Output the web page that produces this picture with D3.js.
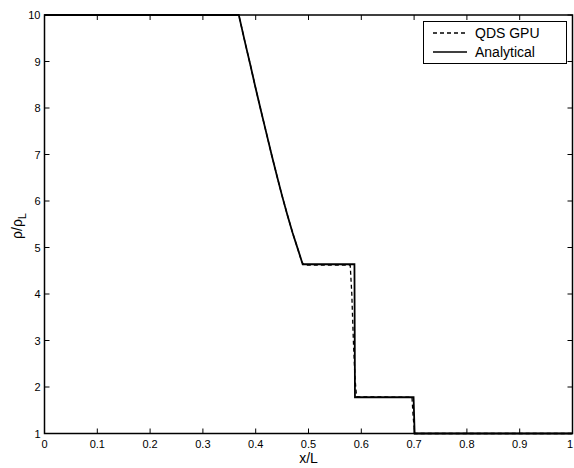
<!DOCTYPE html>
<html><head><meta charset="utf-8">
<script src="https://cdn.jsdelivr.net/npm/d3@7"></script>
<style>body{margin:0;background:#fff}svg{display:block}text{font-family:"Liberation Sans",Arial,sans-serif}</style>
</head><body>
<script>
// Analytical solution (x/L, rho/rho_L)
const analyticalX = [0, 0.368, 0.37, 0.38, 0.39, 0.40, 0.41, 0.42, 0.43, 0.44, 0.45, 0.46, 0.47, 0.48, 0.489, 0.587, 0.588, 0.591, 0.699, 0.701, 1.0];
const analyticalY = [10, 10, 9.90, 9.40, 8.92, 8.42, 7.94, 7.47, 7.00, 6.55, 6.11, 5.70, 5.31, 4.96, 4.64, 4.64, 1.78, 1.78, 1.78, 1.0, 1.0];
// QDS GPU numerical result
const qdsX = [0, 0.365, 0.369, 0.372, 0.38, 0.39, 0.40, 0.41, 0.42, 0.43, 0.44, 0.45, 0.46, 0.47, 0.48, 0.487, 0.492, 0.579, 0.582, 0.585, 0.588, 0.591, 0.696, 0.698, 0.701, 1.0];
const qdsY = [10, 10, 9.95, 9.80, 9.40, 8.92, 8.42, 7.94, 7.47, 7.00, 6.55, 6.11, 5.70, 5.31, 4.96, 4.70, 4.62, 4.62, 4.0, 3.0, 2.2, 1.79, 1.78, 1.4, 1.0, 1.0];
const xTicks = [0, 0.1, 0.2, 0.3, 0.4, 0.5, 0.6, 0.7, 0.8, 0.9, 1];
const yTicks = [1, 2, 3, 4, 5, 6, 7, 8, 9, 10];
const legendLabels = ["QDS GPU", "Analytical"];

const W = 574, H = 468;
const m = {left: 44.5, right: 1.5, top: 15, bottom: 34.5};
const svg = d3.select("body").append("svg").attr("width", W).attr("height", H);
const x = d3.scaleLinear().domain([0, 1]).range([m.left, W - m.right]);
const y = d3.scaleLinear().domain([1, 10]).range([H - m.bottom, m.top]);

const g = svg.append("g");
// ticks inward
const tl = 5;
xTicks.forEach(t => {
  g.append("line").attr("x1", x(t)).attr("x2", x(t)).attr("y1", y(1)).attr("y2", y(1) - tl).attr("stroke", "#000");
  g.append("line").attr("x1", x(t)).attr("x2", x(t)).attr("y1", y(10)).attr("y2", y(10) + tl).attr("stroke", "#000");
  g.append("text").attr("x", Math.min(x(t), W - 4)).attr("y", y(1) + 14).attr("text-anchor", "middle").attr("font-size", 11).text(t);
});
yTicks.forEach(t => {
  g.append("line").attr("x1", x(0)).attr("x2", x(0) + tl).attr("y1", y(t)).attr("y2", y(t)).attr("stroke", "#000");
  g.append("line").attr("x1", x(1)).attr("x2", x(1) - tl).attr("y1", y(t)).attr("y2", y(t)).attr("stroke", "#000");
  g.append("text").attr("x", x(0) - 4).attr("y", y(t) + 4).attr("text-anchor", "end").attr("font-size", 11).text(t);
});

const line = d3.line().x(d => x(d[0])).y(d => y(d[1]));
const an = analyticalX.map((v, i) => [v, analyticalY[i]]);
const qd = qdsX.map((v, i) => [v, qdsY[i]]);
svg.append("path").attr("d", line(an)).attr("fill", "none").attr("stroke", "#000").attr("stroke-width", 1.8);
svg.append("path").attr("d", line(qd)).attr("fill", "none").attr("stroke", "#000").attr("stroke-width", 1.3).attr("stroke-dasharray", "4,3");

// box
svg.append("rect").attr("x", x(0)).attr("y", y(10)).attr("width", x(1) - x(0)).attr("height", y(1) - y(10))
  .attr("fill", "none").attr("stroke", "#000").attr("stroke-width", 1.5);

// axis labels
svg.append("text").attr("x", (x(0) + x(1)) / 2).attr("y", 463).attr("text-anchor", "middle").attr("font-size", 14).text("x/L");
const yl = svg.append("text").attr("transform", "translate(22,226) rotate(-90)").attr("text-anchor", "middle").attr("font-size", 14);
yl.append("tspan").text("ρ/ρ");
yl.append("tspan").attr("font-size", 11).attr("dy", 4).text("L");

// legend
const lg = svg.append("g");
lg.append("rect").attr("x", 423.5).attr("y", 21.5).attr("width", 143).attr("height", 42).attr("fill", "#fff").attr("stroke", "#000").attr("stroke-width", 1);
[0, 1].forEach(i => {
  const yy = 33 + i * 19;
  lg.append("line").attr("x1", 433).attr("x2", 467).attr("y1", yy).attr("y2", yy).attr("stroke", "#000")
    .attr("stroke-width", 1.3).attr("stroke-dasharray", i === 0 ? "4,3" : null);
  lg.append("text").attr("x", 475).attr("y", yy + 5).attr("font-size", 14).text(legendLabels[i]);
});
</script>
</body></html>
